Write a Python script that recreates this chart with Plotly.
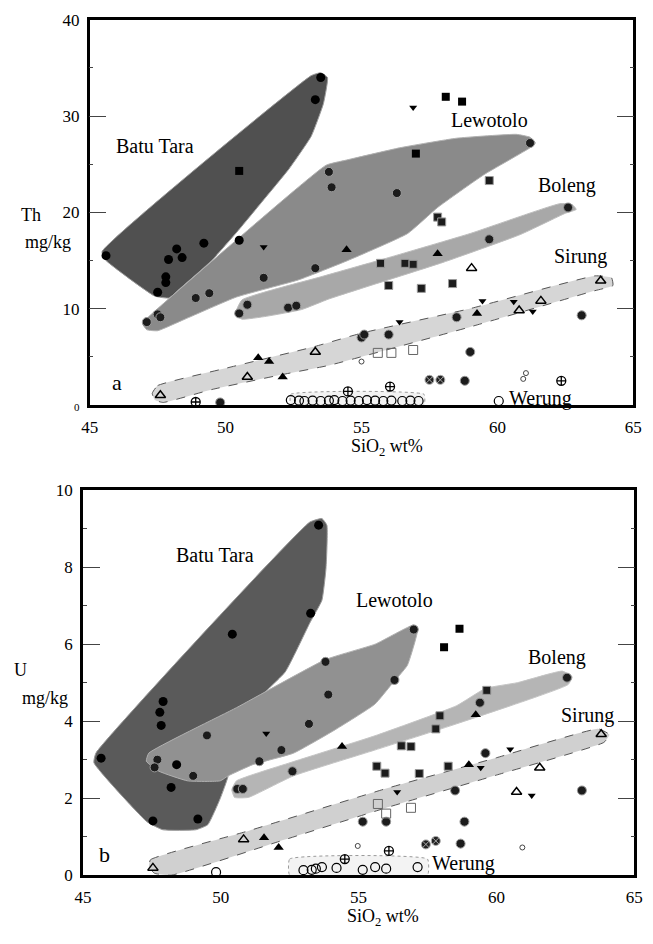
import plotly.graph_objects as go

FONT = "Liberation Serif"

# ---------------- Panel a (Th) : field outlines ----------------
bt_a_x = [45.45, 53.15, 53.5, 53.75, 53.6, 53.15, 52.33, 51.4, 50.46, 49.49, 48.29, 47.92, 47.39, 45.6]
bt_a_y = [15.9, 34.2, 34.5, 34.0, 31.3, 27.9, 24.5, 21.3, 18.1, 15.0, 12.0, 11.1, 11.3, 15.0]
lw_a_x = [46.95, 47.15, 50.1, 53.7, 54.4, 56.4, 58.5, 60.7, 61.2, 61.4, 61.2, 59.5, 57.8, 56.7, 54.5, 52.7, 50.4, 48.5, 47.5, 47.1]
lw_a_y = [8.4, 9.1, 16.4, 24.9, 25.4, 26.7, 27.7, 28.1, 27.8, 27.2, 26.7, 23.9, 20.5, 17.8, 15.0, 13.0, 11.2, 8.9, 7.7, 7.8]
bo_a_x = [50.35, 50.6, 53.5, 56.0, 59.0, 62.3, 62.75, 62.9, 62.5, 60.85, 58.0, 55.0, 53.8, 52.8, 51.5, 50.6]
bo_a_y = [9.4, 10.9, 13.3, 15.3, 17.8, 20.9, 20.8, 20.3, 19.9, 17.7, 14.8, 12.1, 11.0, 9.9, 9.2, 8.9]
si_a_x = [47.3, 47.5, 50.0, 53.2, 55.0, 59.0, 63.6, 64.2, 64.25, 63.5, 59.0, 55.0, 53.8, 52.0, 49.5, 47.7, 47.4]
si_a_y = [1.2, 2.0, 3.8, 6.0, 7.45, 10.0, 13.4, 13.2, 12.4, 11.8, 8.1, 5.0, 4.1, 3.1, 1.6, 0.25, 0.5]
we_a_x = [52.4, 52.4, 57.3, 57.3]
we_a_y = [0.0, 1.1, 1.1, 0.0]

# ---------------- Panel a (Th) : samples ----------------
a_fc_x = [45.6, 47.5, 47.8, 47.8, 47.9, 48.2, 48.4, 49.2, 50.5, 53.3, 53.5]
a_fc_y = [15.5, 11.7, 13.3, 12.7, 15.1, 16.2, 15.3, 16.8, 17.1, 31.7, 34.0]
a_fs_x = [50.5, 58.1, 58.7, 57.0]
a_fs_y = [24.3, 32.0, 31.5, 26.1]
a_hc_x = [47.1, 47.5, 47.6, 48.9, 49.4, 53.8, 53.9, 56.3, 61.2, 53.3, 51.4,
          50.5, 50.8, 52.3, 52.6, 62.6, 59.7,
          55.0, 55.1, 56.0, 58.5, 63.1, 59.0, 58.8, 49.8]
a_hc_y = [8.6, 9.4, 9.1, 11.1, 11.6, 24.2, 22.6, 22.0, 27.2, 14.2, 13.2,
          9.5, 10.4, 10.1, 10.3, 20.5, 17.2,
          7.0, 7.3, 7.3, 9.1, 9.3, 5.5, 2.5, 0.25]
a_hs_x = [59.7, 57.8, 57.95, 55.7, 56.6, 56.9, 56.0, 57.2, 58.35]
a_hs_y = [23.3, 19.5, 19.0, 14.7, 14.7, 14.6, 12.4, 12.1, 12.6]
a_ft_x = [54.45, 57.8, 59.25, 51.6, 52.1, 51.2]
a_ft_y = [16.1, 15.7, 9.5, 4.5, 2.9, 4.9]
a_ot_x = [59.05, 47.6, 50.8, 53.3, 60.8, 61.6, 63.8]
a_ot_y = [14.2, 1.0, 2.9, 5.5, 9.8, 10.8, 12.9]
a_dt_x = [56.9, 51.4, 56.4, 60.6, 61.3, 59.45]
a_dt_y = [30.9, 16.4, 8.6, 10.7, 9.7, 10.8]
a_cc_x = [48.9, 54.5, 56.05, 62.35]
a_cc_y = [0.3, 1.4, 1.9, 2.5]
a_cx_x = [57.5, 57.9]
a_cx_y = [2.6, 2.6]
a_oc_x = [52.4, 52.7, 52.9, 53.2, 53.5, 53.8, 54.0, 54.3, 54.6, 54.9, 55.2, 55.5, 55.8, 56.1, 56.5, 56.8, 57.1, 60.05]
a_oc_y = [0.5, 0.45, 0.4, 0.45, 0.4, 0.45, 0.5, 0.4, 0.45, 0.4, 0.5, 0.45, 0.4, 0.45, 0.4, 0.45, 0.4, 0.4]
a_os_x = [55.6, 56.1, 56.9]
a_os_y = [5.4, 5.4, 5.7]
a_sm_x = [55.0, 60.95, 61.05]
a_sm_y = [4.5, 2.7, 3.3]

# ---------------- Panel b (U) : field outlines ----------------
bt_b_x = [45.47, 53.23, 53.67, 53.85, 53.82, 53.67, 53.23, 52.34, 51.16, 50.35, 50.27, 49.98, 49.53, 49.1, 47.9, 47.32, 45.4]
bt_b_y = [3.17, 9.17, 9.26, 9.09, 7.99, 7.14, 6.55, 5.28, 4.44, 3.51, 2.58, 1.99, 1.31, 1.18, 1.18, 1.39, 2.92]
lw_b_x = [47.39, 50.57, 53.8, 55.6, 57.0, 57.15, 57.07, 56.77, 56.18, 55.59, 54.11, 52.64, 51.16, 50.27, 49.98, 48.8, 47.76, 47.3]
lw_b_y = [3.17, 4.35, 5.6, 6.0, 6.5, 6.4, 6.13, 5.45, 4.94, 4.44, 3.76, 3.17, 2.87, 2.58, 2.45, 2.45, 2.7, 2.96]
bo_b_x = [50.4, 50.57, 52.64, 55.59, 58.55, 59.6, 60.76, 62.39, 62.75, 62.6, 58.55, 55.59, 52.64, 51.0, 50.5]
bo_b_y = [2.22, 2.45, 2.95, 3.62, 4.4, 4.85, 5.0, 5.3, 5.15, 4.95, 3.93, 3.25, 2.58, 2.02, 2.02]
si_b_x = [47.4, 47.45, 51.0, 56.0, 60.0, 63.7, 64.1, 63.9, 60.0, 56.0, 52.0, 48.2, 47.6]
si_b_y = [0.2, 0.4, 1.15, 2.25, 3.05, 3.8, 3.65, 3.45, 2.6, 1.75, 0.85, 0.0, 0.05]
we_b_x = [52.5, 52.5, 57.5, 57.5]
we_b_y = [0.0, 0.42, 0.42, 0.0]

# ---------------- Panel b (U) : samples ----------------
b_fc_x = [45.66, 47.54, 47.91, 47.79, 47.84, 48.4, 48.2, 49.17, 50.42, 53.26, 53.55]
b_fc_y = [3.04, 1.41, 4.51, 4.23, 3.89, 2.87, 2.28, 1.46, 6.26, 6.8, 9.09]
b_fs_x = [58.1, 58.66]
b_fs_y = [5.92, 6.4]
b_hs_x = [55.66, 55.96, 57.2, 58.25, 57.95, 57.8, 56.55, 56.9, 59.65]
b_hs_y = [2.83, 2.65, 2.64, 2.83, 4.14, 3.8, 3.36, 3.34, 4.8]
b_hc_x = [57.0, 56.3, 53.8, 53.9, 53.2, 51.4, 52.2, 49.5, 49.0, 47.7, 47.6,
          50.6, 50.8, 52.6, 62.56, 59.4,
          58.5, 63.1, 59.6, 55.15, 56.0, 58.84, 58.7]
b_hc_y = [6.38, 5.07, 5.54, 4.69, 3.93, 2.96, 3.25, 3.63, 2.58, 3.0, 2.8,
          2.24, 2.24, 2.7, 5.13, 4.48,
          2.2, 2.2, 3.17, 1.39, 1.39, 1.39, 0.82]
b_ft_x = [54.4, 59.25, 59.0, 51.57, 52.1]
b_ft_y = [3.34, 4.17, 2.87, 0.97, 0.72]
b_ot_x = [47.54, 50.83, 60.73, 61.57, 63.8]
b_ot_y = [0.19, 0.93, 2.16, 2.79, 3.66]
b_dt_x = [51.65, 56.4, 59.43, 60.5, 61.28]
b_dt_y = [3.68, 2.16, 2.79, 3.27, 2.07]
b_cc_x = [56.1, 54.5]
b_cc_y = [0.63, 0.42]
b_cx_x = [57.44, 57.8]
b_cx_y = [0.8, 0.89]
b_oc_x = [49.83, 53.0, 53.3, 53.45, 53.67, 54.2, 55.15, 55.6, 56.0, 57.14]
b_oc_y = [0.08, 0.13, 0.14, 0.17, 0.21, 0.19, 0.14, 0.21, 0.17, 0.21]
b_os_x = [55.7, 56.0, 56.9]
b_os_y = [1.85, 1.6, 1.75]
b_sm_x = [54.97, 60.94]
b_sm_y = [0.76, 0.72]

# ---------------- Text ----------------
field_names = ["Batu Tara", "Lewotolo", "Boleng", "Sirung", "Werung"]
a_lab_x = [47.4, 59.7, 62.55, 63.05, 61.6]
a_lab_y = [26.9, 29.6, 22.8, 15.4, 0.7]
b_lab_x = [49.8, 56.3, 62.2, 63.3, 58.8]
b_lab_y = [8.32, 7.15, 5.65, 4.15, 0.3]

x_ticks = [45, 50, 55, 60, 65]
a_y_ticks = [0, 10, 20, 30, 40]
b_y_ticks = [0, 2, 4, 6, 8, 10]

fig = go.Figure()

def poly(xs, ys, xa, ya, fill, line_color, dash="solid", lw=1.0):
    fig.add_trace(go.Scatter(x=xs + xs[:1], y=ys + ys[:1], mode="lines", fill="toself",
                             fillcolor=fill, line=dict(color=line_color, width=lw, dash=dash, shape="spline", smoothing=0.4),
                             xaxis=xa, yaxis=ya, hoverinfo="skip", showlegend=False))

def pts(xs, ys, xa, ya, style):
    fig.add_trace(go.Scatter(x=xs, y=ys, mode="markers", marker=style, xaxis=xa, yaxis=ya,
                             hoverinfo="skip", showlegend=False, cliponaxis=False))

STY = {
    "fc": dict(symbol="circle", size=9, color="black", line=dict(color="black", width=0)),
    "fs": dict(symbol="square", size=8, color="black", line=dict(width=0)),
    "hc": dict(symbol="circle", size=9, color="#1c1c1c", line=dict(color="#9a9a9a", width=1)),
    "hs": dict(symbol="square", size=8, color="#1c1c1c", line=dict(color="#9a9a9a", width=1)),
    "ft": dict(symbol="triangle-up", size=9, color="black", line=dict(width=0)),
    "ot": dict(symbol="triangle-up-open", size=9, color="black", line=dict(color="black", width=1.5)),
    "dt": dict(symbol="triangle-down", size=7, color="black", line=dict(width=0)),
    "cc": dict(symbol="circle-cross-open", size=9, color="black", line=dict(color="black", width=1.3)),
    "cx": dict(symbol="circle-x", size=9, color="#222222", line=dict(color="#aaaaaa", width=1)),
    "oc": dict(symbol="circle-open", size=9, color="black", line=dict(color="black", width=1.2)),
    "os": dict(symbol="square-open", size=9, color="#666666", line=dict(color="#666666", width=1)),
    "sm": dict(symbol="circle-open", size=5, color="#444444", line=dict(color="#444444", width=1)),
}

# panel a fields
poly(bt_a_x, bt_a_y, "x", "y", "#505050", "#9a9a9a")
poly(lw_a_x, lw_a_y, "x", "y", "#8a8a8a", "#b0b0b0")
poly(bo_a_x, bo_a_y, "x", "y", "#a8a8a8", "#bdbdbd")
poly(si_a_x, si_a_y, "x", "y", "#d6d6d6", "#555555", dash="dash", lw=1)
poly(we_a_x, we_a_y, "x", "y", "#f3f3f3", "#999999", dash="dot", lw=1)
# panel b fields
poly(bt_b_x, bt_b_y, "x2", "y2", "#5a5a5a", "#9a9a9a")
poly(lw_b_x, lw_b_y, "x2", "y2", "#919191", "#b0b0b0")
poly(bo_b_x, bo_b_y, "x2", "y2", "#b5b5b5", "#c5c5c5")
poly(si_b_x, si_b_y, "x2", "y2", "#d0d0d0", "#555555", dash="dash", lw=1)
poly(we_b_x, we_b_y, "x2", "y2", "#f3f3f3", "#999999", dash="dot", lw=1)

for key, xs, ys in [("fc", a_fc_x, a_fc_y), ("fs", a_fs_x, a_fs_y), ("hc", a_hc_x, a_hc_y),
                    ("hs", a_hs_x, a_hs_y), ("ft", a_ft_x, a_ft_y), ("ot", a_ot_x, a_ot_y),
                    ("dt", a_dt_x, a_dt_y), ("cc", a_cc_x, a_cc_y), ("cx", a_cx_x, a_cx_y),
                    ("oc", a_oc_x, a_oc_y), ("os", a_os_x, a_os_y), ("sm", a_sm_x, a_sm_y)]:
    pts(xs, ys, "x", "y", STY[key])
for key, xs, ys in [("fc", b_fc_x, b_fc_y), ("fs", b_fs_x, b_fs_y), ("hc", b_hc_x, b_hc_y),
                    ("hs", b_hs_x, b_hs_y), ("ft", b_ft_x, b_ft_y), ("ot", b_ot_x, b_ot_y),
                    ("dt", b_dt_x, b_dt_y), ("cc", b_cc_x, b_cc_y), ("cx", b_cx_x, b_cx_y),
                    ("oc", b_oc_x, b_oc_y), ("os", b_os_x, b_os_y), ("sm", b_sm_x, b_sm_y)]:
    pts(xs, ys, "x2", "y2", STY[key])

ann = []
for name, x, y in zip(field_names, a_lab_x, a_lab_y):
    ann.append(dict(text=name, x=x, y=y, xref="x", yref="y", showarrow=False,
                    font=dict(family=FONT, size=20, color="black")))
for name, x, y in zip(field_names, b_lab_x, b_lab_y):
    ann.append(dict(text=name, x=x, y=y, xref="x2", yref="y2", showarrow=False,
                    font=dict(family=FONT, size=20, color="black")))
ann.append(dict(text="a", x=46.0, y=2.3, xref="x", yref="y", showarrow=False,
                font=dict(family=FONT, size=22, color="black")))
ann.append(dict(text="b", x=45.8, y=0.55, xref="x2", yref="y2", showarrow=False,
                font=dict(family=FONT, size=22, color="black")))
# axis titles
for txt, px, py in [("Th", 23, 210), ("mg/kg", 40, 238), ("U", 12, 675), ("mg/kg", 37, 703),
                    ("SiO<sub>2</sub> wt%", 389, 448), ("SiO<sub>2</sub> wt%", 385, 927)]:
    ann.append(dict(text=txt, x=px / 653, y=1 - py / 944, xref="paper", yref="paper",
                    showarrow=False, xanchor="center", yanchor="middle",
                    font=dict(family=FONT, size=18, color="black")))

xcommon = dict(range=[45, 65], tickvals=x_ticks, ticks="", showgrid=False, zeroline=False,
               showline=True, linecolor="black", linewidth=2.5, mirror=True,
               tickfont=dict(family=FONT, size=17, color="black"), ticklabelstandoff=5)
ycommon = dict(showgrid=False, zeroline=False, showline=True, linecolor="black", linewidth=2.5,
               mirror="ticks", ticks="inside", ticklen=17, tickwidth=1, tickcolor="#444444",
               tickfont=dict(family=FONT, size=17, color="black"), ticklabelstandoff=4)

fig.update_layout(
    width=653, height=944, margin=dict(l=0, r=0, t=0, b=0),
    paper_bgcolor="white", plot_bgcolor="white",
    xaxis=dict(domain=[83 / 653, 642 / 653], anchor="y", **xcommon),
    yaxis=dict(domain=[1 - 404 / 944, 1 - 11 / 944], anchor="x", range=[0, 40],
               tickvals=a_y_ticks,
               ticktext=["<span style='font-size:11px'>0</span>", "10", "20", "30", "40"],
               minor=dict(ticks="inside", ticklen=4, dtick=5, tickcolor="#444444"), **ycommon),
    xaxis2=dict(domain=[76 / 653, 643 / 653], anchor="y2", **xcommon),
    yaxis2=dict(domain=[1 - 884 / 944, 1 - 491 / 944], anchor="x2", range=[0, 10],
                tickvals=b_y_ticks,
                minor=dict(ticks="inside", ticklen=4, dtick=1, tickcolor="#444444"), **ycommon),
    annotations=ann,
)

fig.write_html("out.html")
